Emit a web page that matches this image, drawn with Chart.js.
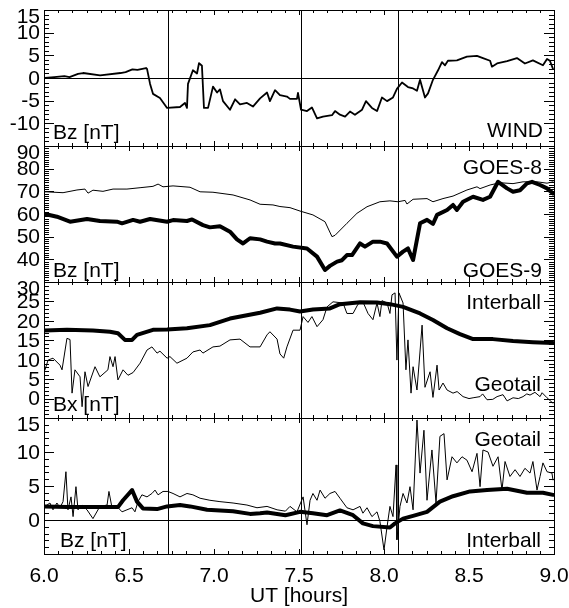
<!DOCTYPE html>
<html>
<head>
<meta charset="utf-8">
<script src="https://cdn.jsdelivr.net/npm/chart.js@4.4.1/dist/chart.umd.min.js"></script>
<style>
  html, body { margin: 0; padding: 0; background: #ffffff; }
  #wrap { position: relative; width: 569px; height: 608px; }
</style>
</head>
<body>
<div id="wrap"><canvas id="c" width="569" height="608"></canvas></div>
<script>
// ---------------- DATA ----------------
// Time axis (UT hours)
const xTickValues = [6.0, 6.5, 7.0, 7.5, 8.0, 8.5, 9.0];
const xTickLabels = ['6.0', '6.5', '7.0', '7.5', '8.0', '8.5', '9.0'];
const xTitle = 'UT [hours]';
const eventTimes = [6.73, 7.51, 8.08];

// Panel 1: WIND Bz
const windTime = [6.006,6.06,6.12,6.15,6.2,6.23,6.33,6.45,6.48,6.52,6.55,6.6,6.606,6.624,6.641,6.682,6.724,6.8,6.829,6.841,6.847,6.876,6.9,6.912,6.929,6.941,6.965,6.994,7.018,7.035,7.053,7.094,7.124,7.153,7.194,7.229,7.271,7.312,7.329,7.359,7.388,7.429,7.447,7.488,7.494,7.512,7.547,7.576,7.606,7.641,7.694,7.712,7.741,7.771,7.8,7.829,7.871,7.894,7.929,7.959,7.988,8.018,8.053,8.076,8.106,8.141,8.171,8.194,8.212,8.241,8.259,8.288,8.318,8.341,8.359,8.376,8.429,8.488,8.547,8.582,8.624,8.635,8.665,8.724,8.782,8.829,8.876,8.935,8.959,8.976,8.994];
const windBz   = [0.0,0.2,0.4,0.2,0.9,1.1,0.6,1.1,1.3,1.9,1.8,2.2,2.0,-1.3,-3.5,-4.4,-6.6,-6.4,-5.5,-6.6,-1.3,1.7,1.0,3.3,2.7,-6.6,-6.6,-1.9,-3.2,-2.5,-5.1,-7.0,-4.7,-5.8,-5.5,-6.3,-4.5,-3.2,-5.1,-2.7,-3.8,-4.1,-4.6,-4.6,-3.3,-7.0,-7.3,-6.5,-8.9,-8.5,-8.2,-7.3,-8.1,-8.5,-7.4,-8.1,-7.0,-5.1,-6.6,-7.3,-4.3,-5.1,-4.3,-2.4,-1.0,-2.0,-2.3,-2.8,-0.4,-4.3,-3.4,-0.4,1.7,3.5,2.8,3.8,3.9,4.7,4.9,4.4,3.8,2.5,3.2,3.7,4.4,3.2,3.9,2.8,4.2,3.8,2.0];

// Panel 2: GOES-8 and GOES-9 Bz
const goes8Time = [6.006,6.112,6.194,6.241,6.259,6.288,6.347,6.406,6.488,6.565,6.641,6.671,6.7,6.759,6.859,6.918,6.994,7.112,7.212,7.271,7.347,7.388,7.447,7.506,7.582,7.653,7.694,7.712,7.782,7.841,7.9,7.976,8.035,8.082,8.124,8.135,8.171,8.253,8.288,8.347,8.406,8.488,8.547,8.565,8.624,8.682,8.759,8.818,8.9,8.959,8.994];
const goes8Bz   = [69.8,69.4,70.6,71.0,69.2,70.5,70.0,71.0,71.0,71.6,72.2,73.2,72.0,72.4,71.8,69.8,69.6,68.4,66.2,64.3,64.0,63.3,62.8,61.3,59.6,56.6,50.0,50.6,55.9,60.3,63.2,65.4,65.8,65.4,66.0,64.4,66.5,66.8,65.4,66.8,67.9,70.6,72.0,71.2,72.8,73.8,73.4,74.2,74.2,73.6,74.2];
const goes9Time = [6.006,6.076,6.153,6.253,6.329,6.429,6.459,6.524,6.565,6.624,6.724,6.759,6.841,6.871,6.935,6.976,7.035,7.094,7.135,7.171,7.212,7.271,7.312,7.359,7.388,7.465,7.547,7.606,7.653,7.682,7.724,7.753,7.782,7.812,7.859,7.888,7.935,7.976,8.018,8.076,8.112,8.141,8.171,8.212,8.253,8.288,8.312,8.371,8.406,8.429,8.465,8.524,8.582,8.624,8.671,8.724,8.759,8.8,8.841,8.871,8.918,8.959,8.994];
const goes9Bz   = [60.0,58.8,56.6,57.8,56.9,56.6,55.9,57.4,56.6,57.8,56.6,57.3,56.9,57.6,55.1,54.1,54.6,52.2,48.8,47.0,49.3,48.8,47.8,47.0,47.0,45.6,44.8,41.2,35.3,37.1,39.0,39.6,41.9,41.9,47.0,45.6,47.8,47.8,47.0,41.2,43.4,44.8,39.7,55.9,57.4,55.6,59.6,61.8,64.0,61.8,65.4,67.6,66.2,67.6,74.2,71.3,69.8,70.5,73.5,74.2,72.8,71.3,69.1];

// Panel 3: Interball and Geotail Bx
const interBxTime = [6.006,6.135,6.288,6.388,6.435,6.476,6.518,6.547,6.641,6.724,6.841,6.976,7.094,7.271,7.371,7.447,7.506,7.582,7.682,7.741,7.859,7.959,8.035,8.112,8.212,8.288,8.371,8.447,8.524,8.641,8.759,8.876,8.994];
const interBx     = [17.5,17.7,17.5,17.2,16.8,15.1,15.1,16.4,17.7,17.8,18.1,18.9,20.6,22.1,23.2,22.9,22.4,22.9,23.2,24.3,24.8,24.7,24.3,23.6,21.9,20.2,18.1,16.6,15.3,15.3,14.8,14.5,14.3];
const geoBxTime = [6.006,6.024,6.053,6.094,6.106,6.135,6.153,6.165,6.182,6.212,6.224,6.241,6.259,6.3,6.329,6.376,6.388,6.406,6.418,6.435,6.465,6.494,6.524,6.565,6.606,6.635,6.665,6.682,6.724,6.741,6.782,6.841,6.876,6.918,6.935,6.994,7.035,7.094,7.153,7.212,7.271,7.312,7.329,7.371,7.388,7.41,7.429,7.465,7.506,7.524,7.553,7.576,7.606,7.641,7.665,7.7,7.759,7.782,7.818,7.847,7.876,7.906,7.935,7.959,7.976,7.988,8.018,8.035,8.047,8.065,8.076,8.088,8.112,8.129,8.141,8.159,8.171,8.194,8.224,8.241,8.271,8.288,8.312,8.324,8.347,8.371,8.406,8.43,8.465,8.5,8.524,8.565,8.58,8.606,8.64,8.665,8.7,8.724,8.759,8.79,8.818,8.84,8.859,8.888,8.918,8.93,8.959,8.994];
const geoBx     = [7.4,9.9,10.4,8.6,7.4,15.5,15.2,1.4,7.4,5.6,-2.1,6.9,3.1,8.2,5.6,7.4,10.8,8.2,10.8,4.8,7.4,6.0,6.7,9.1,12.5,13.3,11.7,12.2,10.4,10.8,9.1,10.4,12.0,12.5,11.7,13.3,13.5,15.1,15.3,13.3,13.3,16.4,17.2,15.3,11.5,10.4,13.3,17.6,17.6,21.1,19.6,21.1,18.5,20.3,23.6,24.9,24.6,21.9,21.9,24.3,24.9,21.9,20.3,24.6,21.1,25.2,24.6,21.9,26.7,27.2,9.9,27.2,24.6,7.4,15.1,1.4,8.2,2.2,18.9,2.9,6.9,0.3,8.6,2.2,4.0,2.2,1.4,1.8,0.5,0.0,0.2,0.5,1.2,-0.3,-0.2,0.5,1.0,-0.6,0.2,0.0,0.5,1.2,0.9,1.6,0.5,1.5,0.2,-1.2];

// Panel 4: Geotail and Interball Bz
const geoBzTime = [6.006,6.035,6.053,6.076,6.094,6.112,6.129,6.141,6.159,6.171,6.188,6.2,6.224,6.253,6.288,6.329,6.371,6.382,6.4,6.429,6.459,6.488,6.518,6.535,6.553,6.576,6.606,6.635,6.653,6.671,6.7,6.729,6.759,6.8,6.841,6.876,6.918,6.976,7.035,7.112,7.194,7.253,7.312,7.371,7.42,7.447,7.488,7.524,7.547,7.565,7.582,7.606,7.624,7.653,7.682,7.712,7.741,7.782,7.818,7.859,7.876,7.9,7.929,7.959,7.976,8.0,8.018,8.035,8.053,8.071,8.076,8.094,8.112,8.135,8.153,8.171,8.194,8.212,8.235,8.253,8.282,8.306,8.329,8.353,8.371,8.4,8.429,8.459,8.488,8.518,8.547,8.565,8.582,8.612,8.641,8.671,8.694,8.712,8.741,8.771,8.8,8.829,8.859,8.876,8.9,8.918,8.935,8.959,8.988,8.994];
const geoBz     = [2.0,2.5,1.5,2.5,1.8,2.7,7.1,1.5,3.4,0.5,4.9,1.5,2.2,1.5,0.2,2.0,2.2,4.2,1.8,2.0,1.2,1.5,1.8,1.2,2.7,3.7,3.4,3.9,4.4,3.7,4.2,4.2,3.9,3.4,3.9,3.7,3.2,2.9,2.7,2.5,2.2,1.8,2.0,1.5,1.3,2.0,1.2,3.4,-0.7,2.9,3.9,2.9,4.4,3.2,3.9,4.2,3.2,1.8,1.5,2.0,1.0,1.8,0.5,1.2,-0.2,-4.4,-1.0,2.0,0.5,8.1,-2.9,2.0,3.9,2.5,4.9,1.5,14.7,6.9,13.2,2.9,10.3,2.5,12.3,12.7,5.9,9.3,8.4,9.3,8.8,7.1,9.8,4.9,10.3,10.0,7.9,9.3,4.4,8.6,6.4,7.4,6.4,7.6,6.9,8.6,4.4,6.4,8.4,7.1,6.9,5.9];
const interBzTime = [6.006,6.135,6.288,6.435,6.465,6.518,6.547,6.582,6.665,6.724,6.8,6.859,6.959,7.112,7.212,7.271,7.312,7.42,7.506,7.582,7.665,7.741,7.818,7.876,7.935,8.035,8.065,8.112,8.171,8.253,8.329,8.406,8.506,8.606,8.724,8.841,8.935,8.994];
const interBz     = [2.0,1.9,1.9,1.9,2.9,4.4,2.7,1.7,1.6,2.0,2.2,2.0,1.5,1.3,0.9,1.0,1.1,0.7,1.2,1.0,0.7,1.4,0.7,-0.5,-0.9,-1.1,-0.5,0.2,0.6,1.2,2.7,3.5,4.2,4.4,4.6,4.0,4.0,3.7];

// Y-axis ranges and tick labels per panel (top to bottom)
const p1Range = [-15, 15], p1Ticks = [-15, -10, -5, 0, 5, 10, 15], p1Labels = ['', '-10', '-5', '0', '5', '10', '15'];
const p2Range = [30, 90],  p2Ticks = [30, 40, 50, 60, 70, 80, 90],  p2Labels = ['', '40', '50', '60', '70', '80', '90'];
const p3Range = [-5, 30],  p3Ticks = [-5, 0, 5, 10, 15, 20, 25, 30], p3Labels = ['', '0', '5', '10', '15', '20', '25', '30'];
const p4Range = [-5, 15],  p4Ticks = [-5, 0, 5, 10, 15], p4Labels = ['', '0', '5', '10', '15'];

// Panel annotations (text)
const p1Texts = ['Bz [nT]', 'WIND'];
const p2Texts = ['GOES-8', 'GOES-9', 'Bz [nT]'];
const p3Texts = ['Interball', 'Geotail', 'Bx [nT]'];
const p4Texts = ['Geotail', 'Interball', 'Bz [nT]'];

// ---------------- BUILD ----------------
const zip = (t, v) => t.map((x, i) => ({ x: x, y: v[i] }));
const FONT = '21px "Liberation Sans", Arial, Helvetica, sans-serif';

function ds(t, v, axis, w) {
  return { data: zip(t, v), yAxisID: axis, borderColor: '#000', borderWidth: w,
           pointRadius: 0, tension: 0, fill: false, borderJoinStyle: 'round', borderCapStyle: 'round' };
}

const panels = [
  { id: 'y1', ticks: p1Ticks, labels: p1Labels, zero: true,
    texts: [ { t: p1Texts[0], side: 'left', dx: 9, from: 'bottom', dy: 7 },
             { t: p1Texts[1], side: 'right', dx: 11, from: 'bottom', dy: 9 } ] },
  { id: 'y2', ticks: p2Ticks, labels: p2Labels, zero: false,
    texts: [ { t: p2Texts[0], side: 'right', dx: 12, from: 'top', dy: 28 },
             { t: p2Texts[1], side: 'right', dx: 12, from: 'bottom', dy: 5 },
             { t: p2Texts[2], side: 'left', dx: 9, from: 'bottom', dy: 5 } ] },
  { id: 'y3', ticks: p3Ticks, labels: p3Labels, zero: false,
    texts: [ { t: p3Texts[0], side: 'right', dx: 13, from: 'top', dy: 27 },
             { t: p3Texts[1], side: 'right', dx: 13, from: 'bottom', dy: 27 },
             { t: p3Texts[2], side: 'left', dx: 9, from: 'bottom', dy: 7 } ] },
  { id: 'y4', ticks: p4Ticks, labels: p4Labels, zero: true,
    texts: [ { t: p4Texts[0], side: 'right', dx: 13, from: 'top', dy: 28 },
             { t: p4Texts[1], side: 'right', dx: 13, from: 'bottom', dy: 7 },
             { t: p4Texts[2], side: 'left', dx: 16, from: 'bottom', dy: 7 } ] }
];

const framePlugin = {
  id: 'frame',
  beforeDatasetsDraw(chart) {
    const ctx = chart.ctx;
    const xs = chart.scales.x;
    const L = chart.chartArea.left, R = chart.chartArea.right;
    ctx.save();
    ctx.strokeStyle = '#000';
    ctx.lineWidth = 1;
    panels.forEach(p => {
      const ys = chart.scales[p.id];
      const T = ys.top, B = ys.bottom;
      // zero line
      if (p.zero) {
        const y0 = Math.round(ys.getPixelForValue(0)) + 0.5;
        ctx.beginPath(); ctx.moveTo(L, y0); ctx.lineTo(R, y0); ctx.stroke();
      }
      // y ticks (minor every 1 unit, major at tick values), inward on both sides
      ctx.beginPath();
      for (let v = Math.ceil(ys.min); v <= ys.max; v++) {
        const y = Math.round(ys.getPixelForValue(v)) + 0.5;
        const major = p.ticks.indexOf(v) >= 0;
        const len = major ? 10 : 5;
        ctx.moveTo(L, y); ctx.lineTo(L + len, y);
        ctx.moveTo(R, y); ctx.lineTo(R - len, y);
      }
      ctx.stroke();
      // x ticks: minor every 5 min, major at xTickValues, inward at top and bottom
      ctx.beginPath();
      for (let k = 0; k <= 36; k++) {
        const v = 6 + k / 12;
        const x = Math.round(xs.getPixelForValue(v)) + 0.5;
        const major = k % 6 === 0;
        const len = major ? 5 : 3;
        ctx.moveTo(x, T); ctx.lineTo(x, T + len);
        ctx.moveTo(x, B); ctx.lineTo(x, B - len);
      }
      ctx.stroke();
      // frame
      ctx.strokeRect(Math.round(L) + 0.5, Math.round(T) + 0.5, Math.round(R - L), Math.round(B - T));
    });
    // event lines across all panels
    const top = chart.chartArea.top, bottom = chart.chartArea.bottom;
    ctx.beginPath();
    eventTimes.forEach(t => {
      const x = Math.round(xs.getPixelForValue(t)) + 0.5;
      ctx.moveTo(x, top); ctx.lineTo(x, bottom);
    });
    ctx.stroke();
    ctx.restore();
  },
  afterDraw(chart) {
    const ctx = chart.ctx;
    const xs = chart.scales.x;
    const L = chart.chartArea.left, R = chart.chartArea.right;
    ctx.save();
    ctx.fillStyle = '#000';
    ctx.font = FONT;
    panels.forEach(p => {
      const ys = chart.scales[p.id];
      const T = ys.top, B = ys.bottom;
      // y tick labels
      ctx.textAlign = 'right';
      ctx.textBaseline = 'middle';
      p.ticks.forEach((v, i) => {
        if (!p.labels[i]) return;
        let y = ys.getPixelForValue(v);
        if (y < T + 6) y = T + 6;
        ctx.fillText(p.labels[i], L - 4, y + 1);
      });
      // annotations
      ctx.textBaseline = 'alphabetic';
      p.texts.forEach(a => {
        ctx.textAlign = a.side === 'left' ? 'left' : 'right';
        const x = a.side === 'left' ? L + a.dx : R - a.dx;
        const y = a.from === 'top' ? T + a.dy : B - a.dy;
        ctx.fillText(a.t, x, y);
      });
    });
    // x tick labels
    ctx.textAlign = 'center';
    ctx.textBaseline = 'alphabetic';
    const bottom = chart.chartArea.bottom;
    xTickValues.forEach((v, i) => {
      ctx.fillText(xTickLabels[i], xs.getPixelForValue(v), bottom + 28);
    });
    ctx.fillText(xTitle, (L + R) / 2, bottom + 48);
    ctx.restore();
  }
};

const yScale = (range, w) => ({
  type: 'linear', min: range[0], max: range[1], display: false,
  position: 'left', stack: 'panels', stackWeight: 1, weight: w
});

new Chart(document.getElementById('c'), {
  type: 'line',
  data: {
    datasets: [
      ds(windTime, windBz, 'y1', 1.8),
      ds(goes8Time, goes8Bz, 'y2', 1),
      ds(goes9Time, goes9Bz, 'y2', 4),
      ds(interBxTime, interBx, 'y3', 4),
      ds(geoBxTime, geoBx, 'y3', 1),
      ds(geoBzTime, geoBz, 'y4', 1),
      ds(interBzTime, interBz, 'y4', 4)
    ]
  },
  options: {
    responsive: false,
    animation: false,
    devicePixelRatio: 1,
    layout: { padding: { left: 44, right: 15, top: 10, bottom: 54 } },
    plugins: { legend: { display: false }, tooltip: { enabled: false } },
    scales: {
      x: { type: 'linear', min: 6, max: 9, display: false },
      y1: yScale(p1Range, 4),
      y2: yScale(p2Range, 3),
      y3: yScale(p3Range, 2),
      y4: yScale(p4Range, 1)
    }
  },
  plugins: [framePlugin]
});
</script>
</body>
</html>
